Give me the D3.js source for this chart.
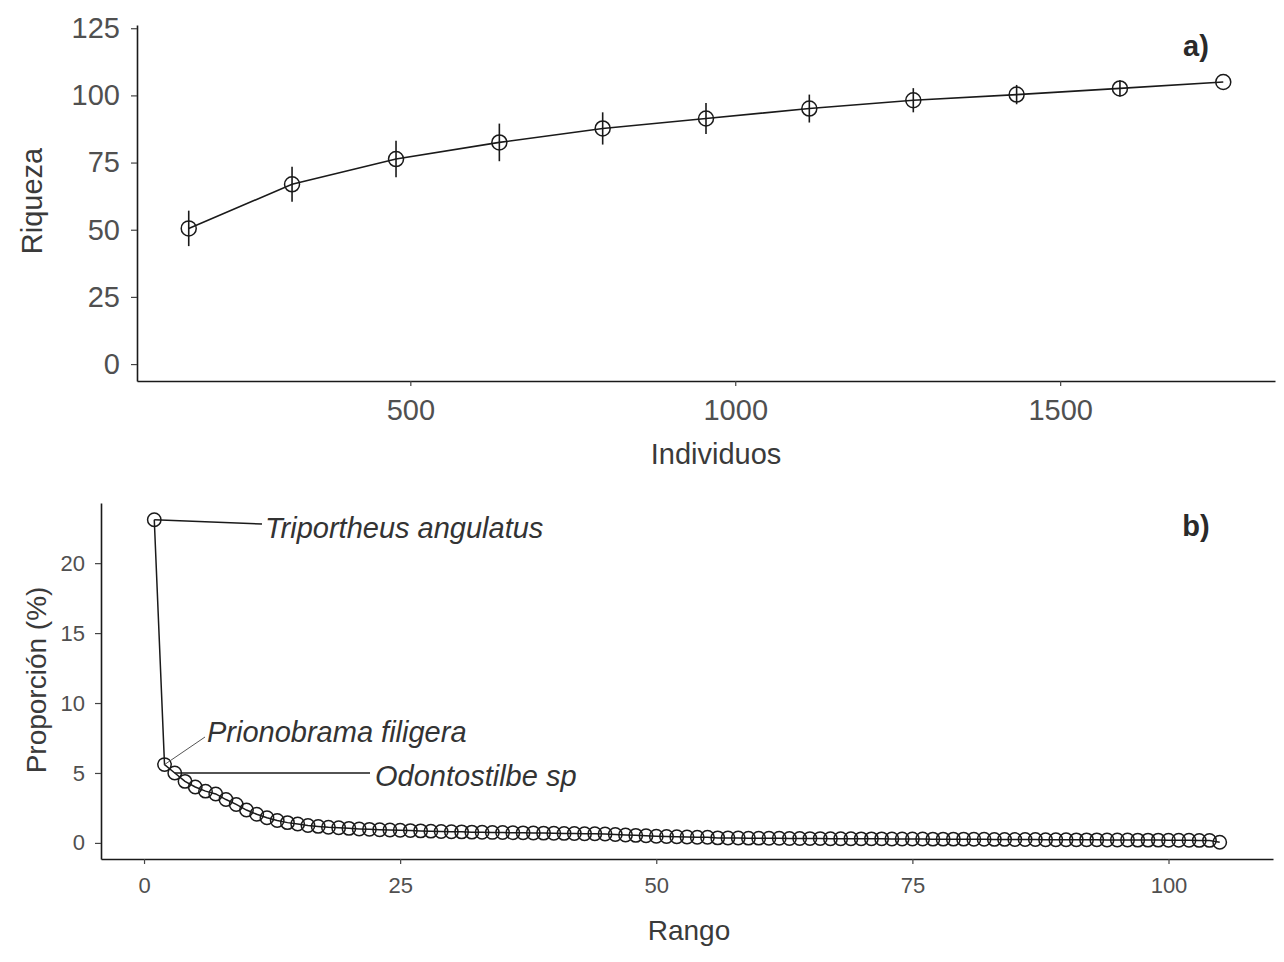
<!DOCTYPE html>
<html>
<head>
<meta charset="utf-8">
<script src="https://cdn.jsdelivr.net/npm/d3@7"></script>
<style>
  html, body { margin: 0; padding: 0; background: #fff; }
  svg { display: block; font-family: "Liberation Sans", Arial, sans-serif; }
</style>
</head>
<body>
<svg id="chart" width="1284" height="962"></svg>
<script>
// ---- a) Curva de rarefacción: riqueza frente a número de individuos ----
const individuos = [159, 318, 478, 637, 796, 955, 1114, 1274, 1433, 1592, 1751];
const riqueza    = [50.5, 66.9, 76.3, 82.5, 87.7, 91.4, 95.1, 98.2, 100.3, 102.6, 105];
const riquezaDE  = [6.6, 6.5, 6.8, 7.0, 6.0, 5.8, 5.2, 4.5, 3.6, 3.0, 0];
const ticksIndividuos = [500, 1000, 1500];
const ticksRiqueza    = [0, 25, 50, 75, 100, 125];

// ---- b) Curva rango-abundancia: proporción (%) de cada especie ----
const proporcion = [
  23.1, 5.6, 5.0, 4.4, 4.0, 3.7, 3.5, 3.1, 2.75, 2.35,
  2.05, 1.8, 1.6, 1.45, 1.35, 1.25, 1.18, 1.12, 1.08, 1.04,
  1.0, 0.97, 0.94, 0.92, 0.9, 0.88, 0.86, 0.84, 0.82, 0.8,
  0.79, 0.77, 0.76, 0.75, 0.74, 0.73, 0.72, 0.71, 0.7, 0.69,
  0.68, 0.67, 0.66, 0.65, 0.64, 0.6, 0.57, 0.54, 0.51, 0.48,
  0.46, 0.44, 0.42, 0.41, 0.4, 0.36, 0.35, 0.35, 0.34, 0.34,
  0.33, 0.33, 0.32, 0.32, 0.31, 0.31, 0.3, 0.3, 0.3, 0.29,
  0.29, 0.29, 0.28, 0.28, 0.28, 0.28, 0.27, 0.27, 0.27, 0.27,
  0.26, 0.26, 0.25, 0.25, 0.24, 0.24, 0.24, 0.23, 0.23, 0.23,
  0.22, 0.22, 0.22, 0.21, 0.21, 0.21, 0.2, 0.2, 0.2, 0.19,
  0.19, 0.19, 0.18, 0.18, 0.05
];
const ticksRango      = [0, 25, 50, 75, 100];
const ticksProporcion = [0, 5, 10, 15, 20];
const especies     = ["Triportheus angulatus", "Prionobrama filigera", "Odontostilbe sp"];
const especieRango = [1, 2, 3];

const svg = d3.select("#chart");
const ink = "#1a1a1a";
const tickText = "#505050";
const titleText = "#3a3a3a";

function styleAxis(g, fontSize) {
  g.select(".domain").attr("stroke", ink).attr("stroke-width", 1.6);
  g.selectAll(".tick line").attr("stroke", "#444").attr("stroke-width", 1.2);
  g.selectAll(".tick text")
    .attr("fill", tickText)
    .style("font-size", fontSize + "px")
    .style("font-family", "'Liberation Sans', Arial, sans-serif");
}

// ================= Panel a =================
const xA = d3.scaleLinear().domain([79.4, 1830.6]).range([137, 1275]);
const yA = d3.scaleLinear().domain([-6.3, 126.2]).range([381, 25]);

const gA = svg.append("g");
gA.append("g")
  .attr("transform", `translate(0,${yA.range()[0]})`)
  .call(d3.axisBottom(xA).tickValues(ticksIndividuos).tickSizeInner(5).tickSizeOuter(0).tickPadding(13).tickFormat(d3.format("d")))
  .call(g => styleAxis(g, 29));
gA.append("g")
  .attr("transform", `translate(${xA.range()[0]},0)`)
  .call(d3.axisLeft(yA).tickValues(ticksRiqueza).tickSizeInner(6).tickSizeOuter(0).tickPadding(11))
  .call(g => styleAxis(g, 29));

const ptsA = individuos.map((x, i) => ({ x, y: riqueza[i], e: riquezaDE[i] }));

gA.append("path")
  .datum(ptsA)
  .attr("fill", "none")
  .attr("stroke", ink)
  .attr("stroke-width", 1.6)
  .attr("d", d3.line().x(d => xA(d.x)).y(d => yA(d.y)));

gA.selectAll("line.err")
  .data(ptsA.filter(d => d.e > 0))
  .join("line")
  .attr("class", "err")
  .attr("x1", d => xA(d.x)).attr("x2", d => xA(d.x))
  .attr("y1", d => yA(d.y - d.e)).attr("y2", d => yA(d.y + d.e))
  .attr("stroke", ink).attr("stroke-width", 1.6);

gA.selectAll("circle")
  .data(ptsA)
  .join("circle")
  .attr("cx", d => xA(d.x)).attr("cy", d => yA(d.y))
  .attr("r", 7.5)
  .attr("fill", "none")
  .attr("stroke", ink).attr("stroke-width", 1.5);

gA.append("text")
  .attr("x", 716).attr("y", 464)
  .attr("text-anchor", "middle")
  .attr("fill", titleText)
  .style("font-size", "29px")
  .text("Individuos");
gA.append("text")
  .attr("transform", "translate(42,201) rotate(-90)")
  .attr("text-anchor", "middle")
  .attr("fill", titleText)
  .style("font-size", "29px")
  .text("Riqueza");
gA.append("text")
  .attr("x", 1196).attr("y", 56)
  .attr("text-anchor", "middle")
  .attr("fill", "#2a2a2a")
  .style("font-size", "29px").style("font-weight", "bold")
  .text("a)");

// ================= Panel b =================
const xB = d3.scaleLinear().domain([-4.2, 110.2]).range([101, 1273]);
const yB = d3.scaleLinear().domain([-1.15, 24.3]).range([859, 503]);

const gB = svg.append("g");
gB.append("g")
  .attr("transform", `translate(0,${yB.range()[0]})`)
  .call(d3.axisBottom(xB).tickValues(ticksRango).tickSizeInner(5).tickSizeOuter(0).tickPadding(13))
  .call(g => styleAxis(g, 22));
gB.append("g")
  .attr("transform", `translate(${xB.range()[0]},0)`)
  .call(d3.axisLeft(yB).tickValues(ticksProporcion).tickSizeInner(6).tickSizeOuter(0).tickPadding(10))
  .call(g => styleAxis(g, 22));

const ptsB = proporcion.map((p, i) => ({ r: i + 1, p }));

gB.append("path")
  .datum(ptsB)
  .attr("fill", "none")
  .attr("stroke", ink)
  .attr("stroke-width", 1.5)
  .attr("d", d3.line().x(d => xB(d.r)).y(d => yB(d.p)));

gB.selectAll("circle")
  .data(ptsB)
  .join("circle")
  .attr("cx", d => xB(d.r)).attr("cy", d => yB(d.p))
  .attr("r", 6.7)
  .attr("fill", "none")
  .attr("stroke", ink).attr("stroke-width", 1.5);

// species labels with leader segments (label anchor offsets in pixels)
const labelLayout = [
  { tx: 265, ty: 538, ex: 262, ey: 524, w: 1.6, c: ink },
  { tx: 207, ty: 742, ex: 205, ey: 737, w: 1.0, c: "#555" },
  { tx: 375, ty: 786, ex: 370, ey: 773, w: 1.6, c: ink }
];
especies.forEach((name, i) => {
  const r = especieRango[i];
  const L = labelLayout[i];
  const px = xB(r), py = yB(proporcion[r - 1]);
  gB.append("line")
    .attr("x1", px).attr("y1", py)
    .attr("x2", L.ex).attr("y2", L.ey)
    .attr("stroke", L.c).attr("stroke-width", L.w);
  gB.append("text")
    .attr("x", L.tx).attr("y", L.ty)
    .attr("fill", "#333")
    .style("font-size", "29px").style("font-style", "italic")
    .text(name);
});

gB.append("text")
  .attr("x", 689).attr("y", 940)
  .attr("text-anchor", "middle")
  .attr("fill", titleText)
  .style("font-size", "28px")
  .text("Rango");
gB.append("text")
  .attr("transform", "translate(46,680) rotate(-90)")
  .attr("text-anchor", "middle")
  .attr("fill", titleText)
  .style("font-size", "28px")
  .text("Proporción (%)");
gB.append("text")
  .attr("x", 1196).attr("y", 536)
  .attr("text-anchor", "middle")
  .attr("fill", "#2a2a2a")
  .style("font-size", "29px").style("font-weight", "bold")
  .text("b)");
</script>
</body>
</html>
